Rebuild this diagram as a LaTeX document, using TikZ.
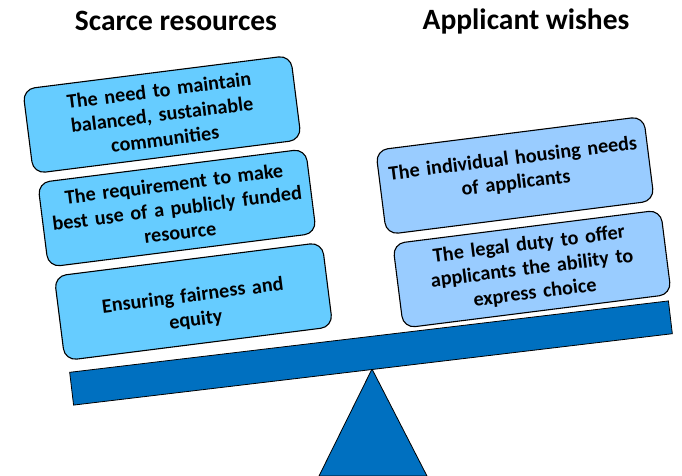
\documentclass[tikz,border=0pt]{standalone}
\usepackage{fontspec}
\setmainfont{Carlito}
\usetikzlibrary{positioning}
\definecolor{beamblue}{HTML}{0070C0}
\definecolor{scarceblue}{HTML}{66CCFF}
\definecolor{wishblue}{HTML}{99CCFF}

\begin{document}
\begin{tikzpicture}[x=1pt,y=-1pt]
  \tikzstyle{weight}=[rectangle, rounded corners=12pt, draw=black, line width=1.1pt,
minimum width=270pt, minimum height=85pt, inner sep=0pt, text width=264pt, align=center,
font=\fontsize{20.2}{24.5}\selectfont\bfseries, rotate=7.2]
  \tikzstyle{heading}=[font=\fontsize{29.5}{33}\selectfont\bfseries]
  \useasboundingbox (0,0) rectangle (682,475);

  \node[heading] (T_s) at (176,21) {Scarce resources};
  \node[heading] (T_w) at (526,21) {Applicant wishes};

  \coordinate (F_top) at (372,369);
  \coordinate (F_l) at (319,476);
  \coordinate (F_r) at (427,476);
  \draw[fill=beamblue, line width=0.8pt] (F_l) -- (F_top) -- (F_r) -- cycle;
  \node[fill=beamblue, draw=black, line width=0.8pt, minimum width=603pt, minimum height=33pt,
inner sep=0pt, rotate=6.8] (beam) at (371,353) {};

  \node[weight, fill=scarceblue] (S_1) at (162,114.5) {The need to maintain\\ balanced, sustainable\\ communities};
  \node[weight, fill=scarceblue] (S_2) at (177,208) {The requirement to make\\ best use of a publicly funded\\ resource};
  \node[weight, fill=scarceblue, text depth=14pt] (S_3) at (193.5,301.5) {Ensuring fairness and\\ equity};

  \node[weight, fill=wishblue, text depth=36pt] (W_1) at (515,175.5) {The individual housing needs\\ of applicants};
  \node[weight, fill=wishblue] (W_2) at (532,269) {The legal duty to offer\\ applicants the ability to\\ express choice};
\end{tikzpicture}
\end{document}
